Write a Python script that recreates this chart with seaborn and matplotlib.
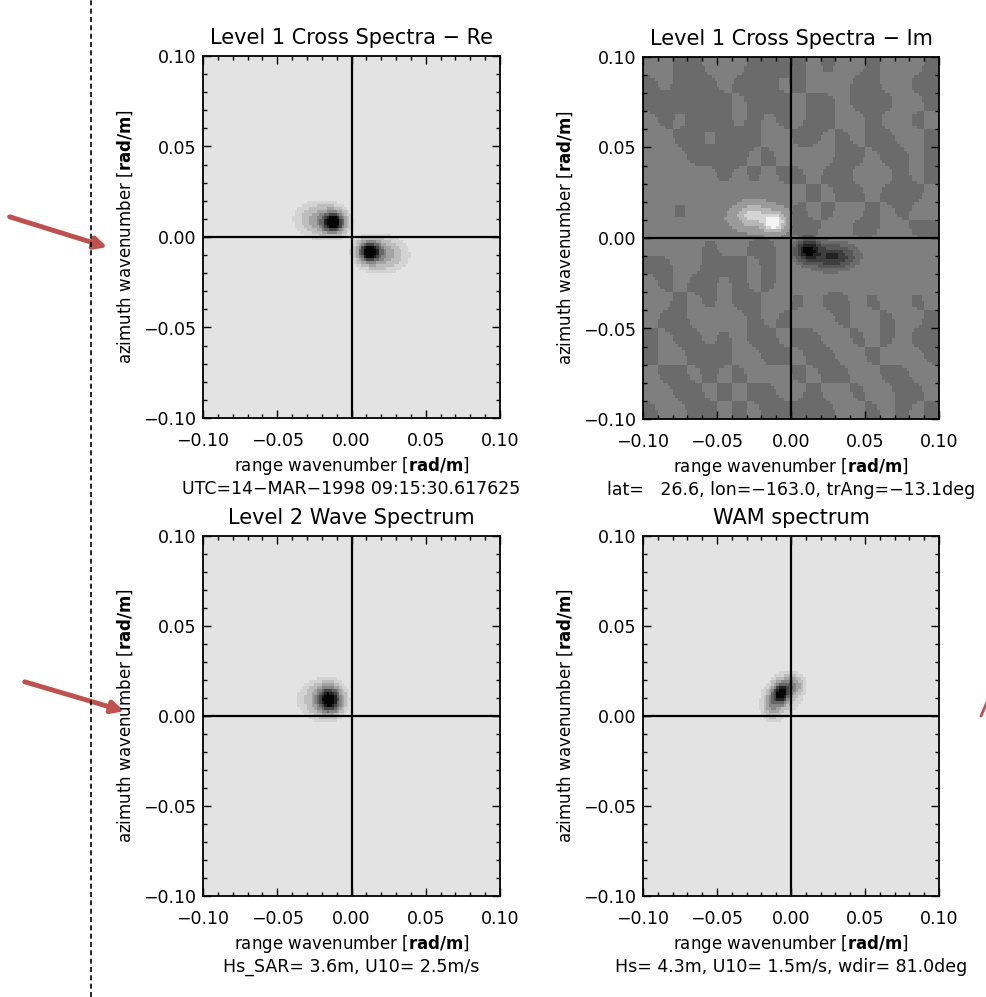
import numpy as np
import matplotlib
matplotlib.use("Agg")
import matplotlib.pyplot as plt
import seaborn as sns
from matplotlib.colors import ListedColormap
from matplotlib.patches import FancyArrowPatch
from matplotlib.lines import Line2D

# ---------------- data ----------------
titles = ["Level 1 Cross Spectra \u2212 Re", "Level 1 Cross Spectra \u2212 Im",
          "Level 2 Wave Spectrum", "WAM spectrum"]
subtitles = ["UTC=14\u2212MAR\u22121998 09:15:30.617625",
             "lat=   26.6, lon=\u2212163.0, trAng=\u221213.1deg",
             "Hs_SAR= 3.6m, U10= 2.5m/s",
             "Hs= 4.3m, U10= 1.5m/s, wdir= 81.0deg"]
tick_values = [-0.10, -0.05, 0.00, 0.05, 0.10]
tick_labels = ["\u22120.10", "\u22120.05", "0.00", "0.05", "0.10"]

# spectral peaks: centre x, centre y, width x, width y, amplitude
re_cx = [-0.012, -0.018, -0.022, 0.012, 0.018, 0.022]
re_cy = [0.008, 0.009, 0.010, -0.008, -0.009, -0.010]
re_sx = [0.0045, 0.008, 0.011, 0.0045, 0.008, 0.011]
re_sy = [0.0035, 0.005, 0.006, 0.0035, 0.005, 0.006]
re_amp = [1.0, 0.22, 0.12, 1.0, 0.22, 0.12]

im_cx = [-0.0117, -0.026, -0.022, 0.0118, 0.028, 0.026]
im_cy = [0.0086, 0.0130, 0.0110, -0.0070, -0.0105, -0.0100]
im_sx = [0.0045, 0.0060, 0.0120, 0.0045, 0.0070, 0.0120]
im_sy = [0.0032, 0.0035, 0.0050, 0.0032, 0.0032, 0.0050]
im_amp = [0.95, 0.45, 0.2, -1.05, -0.45, -0.18]

l2_cx = [-0.0150, -0.020]
l2_cy = [0.0090, 0.0092]
l2_sx = [0.0050, 0.0090]
l2_sy = [0.0045, 0.0062]
l2_amp = [1.0, 0.22]

wam_cx = [-0.0068, 0.0005, -0.0125, -0.005]
wam_cy = [0.0125, 0.0170, 0.0060, 0.0120]
wam_sx = [0.0035, 0.0045, 0.0040, 0.0080]
wam_sy = [0.0035, 0.0035, 0.0045, 0.0075]
wam_amp = [1.0, 0.35, 0.32, 0.12]

# background speckle of the Im panel (1 = darker grey, 0 = lighter grey),
# rows from azimuth +0.10 down to -0.10, columns from range -0.10 to +0.10
im_background = [
    "00110001111010010001",
    "10111011101000110011",
    "11111101110110111001",
    "01011101010110010010",
    "00110111001101011001",
    "00011110100001101101",
    "00000101011011000101",
    "00000000000101101110",
    "00100000001010010100",
    "00000000001100110011",
    "00001001100000000000",
    "11001110100000000000",
    "01011010100000000000",
    "00101011001011010010",
    "01100001010001001001",
    "10110101101100101011",
    "10011100110110010001",
    "01101010001011001100",
    "00110101100100100110",
    "10011010111110010101",
]

# ---------------- build fields ----------------
N = 120
xs = -0.1 + (np.arange(N) + 0.5) * 0.2 / N
ys = 0.1 - (np.arange(N) + 0.5) * 0.2 / N
X, Y = np.meshgrid(xs, ys)


def peaks(cx, cy, sx, sy, amp):
    f = np.zeros_like(X)
    for a, b, c, d, e in zip(cx, cy, sx, sy, amp):
        f += e * np.exp(-((X - a) ** 2 / (2 * c ** 2) + (Y - b) ** 2 / (2 * d ** 2)))
    return f


def blur1d(a, sigma, axis):
    r = int(3 * sigma)
    k = np.exp(-0.5 * (np.arange(-r, r + 1) / sigma) ** 2)
    k /= k.sum()
    pad = [(0, 0), (0, 0)]
    pad[axis] = (r, r)
    ap = np.pad(a, pad, mode="reflect")
    return np.apply_along_axis(lambda v: np.convolve(v, k, mode="valid"), axis, ap)


def speckle(rows):
    A = np.array([[int(ch) for ch in r] for r in rows], dtype=float)
    f = N // A.shape[0]
    B = np.kron(A, np.ones((f, f)))
    B = blur1d(blur1d(B, 2.4, 0), 2.4, 1)
    return (B >= 0.5).astype(float)


pow_bounds = [0.04, 0.1, 0.2, 0.32, 0.45, 0.6, 0.75, 0.9]
pow_colors = ["#e3e3e3", "#d3d3d3", "#bdbdbd", "#a3a3a3", "#868686",
              "#666666", "#454545", "#232323", "#050505"]
im_bounds = [-0.75, -0.5, -0.25, -0.08, 0.0, 0.08, 0.25, 0.5, 0.75]
im_colors = ["#000000", "#222222", "#3e3e3e", "#575757", "#6b6b6b",
             "#7f7f7f", "#9a9a9a", "#b6b6b6", "#d4d4d4", "#f4f4f4"]

re_field = peaks(re_cx, re_cy, re_sx, re_sy, re_amp)
im_field = peaks(im_cx, im_cy, im_sx, im_sy, im_amp) + np.where(speckle(im_background) > 0.5, -0.04, 0.04)
l2_field = peaks(l2_cx, l2_cy, l2_sx, l2_sy, l2_amp)
wam_field = peaks(wam_cx, wam_cy, wam_sx, wam_sy, wam_amp)

fields = [(re_field, pow_bounds, pow_colors), (im_field, im_bounds, im_colors),
          (l2_field, pow_bounds, pow_colors), (wam_field, pow_bounds, pow_colors)]

# ---------------- figure ----------------
sns.set_style("white")
plt.rcParams["font.family"] = ["DejaVu Sans"]
plt.rcParams["text.color"] = "black"
plt.rcParams["xtick.color"] = "black"
plt.rcParams["ytick.color"] = "black"
plt.rcParams["axes.axisbelow"] = False
W, H = 986, 997
fig = plt.figure(figsize=(W / 100, H / 100), dpi=100)


def fx(px):
    return px / W


def fy(py):
    return 1 - py / H


boxes = [(203, 56, 500, 418), (643, 57, 939, 419), (203, 536, 500, 896), (643, 536, 939, 896)]

for k, ((x0, y0, x1, y1), (fld, bnds, cols)) in enumerate(zip(boxes, fields)):
    ax = fig.add_axes([fx(x0), fy(y1), (x1 - x0) / W, (y1 - y0) / H])
    q = np.digitize(fld, bnds)
    sns.heatmap(q, ax=ax, cmap=ListedColormap(cols), vmin=-0.5, vmax=len(cols) - 0.5,
                cbar=False, xticklabels=False, yticklabels=False)
    ax.set_axisbelow(False)
    ax.axvline(N / 2, color="black", lw=1.6)
    ax.axhline(N / 2, color="black", lw=1.6)
    for s in ax.spines.values():
        s.set_visible(True)
        s.set_color("black")
        s.set_linewidth(1.3)
    pos_x = [(v + 0.1) / 0.2 * N for v in tick_values]
    pos_y = [(0.1 - v) / 0.2 * N for v in tick_values]
    ax.set_xticks(pos_x)
    ax.set_xticklabels(tick_labels, rotation=0)
    ax.set_yticks(pos_y)
    ax.set_yticklabels(tick_labels, rotation=0)
    minor = [i * N / 20 for i in range(21)]
    ax.set_xticks(minor, minor=True)
    ax.set_yticks(minor, minor=True)
    ax.tick_params(which="both", direction="in", top=True, right=True, bottom=True, left=True,
                   color="black", width=1.0)
    ax.tick_params(which="major", length=6, labelsize=12.5, labelcolor="black")
    ax.tick_params(which="minor", length=3)
    ax.tick_params(axis="x", which="major", pad=10)
    ax.tick_params(axis="y", which="major", pad=5)
    ax.set_xlabel("")
    ax.set_ylabel("")

    cx = (x0 + x1) / 2
    fig.text(fx(cx), fy(y0 - 18), titles[k], ha="center", va="center", fontsize=15, color="black")
    fig.text(fx(cx), fy(y1 + 48), r"range wavenumber [$\mathbf{rad/m}$]",
             ha="center", va="center", fontsize=12, color="black")
    fig.text(fx(cx), fy(y1 + 71), subtitles[k], ha="center", va="center", fontsize=12.5,
             color="black")
    fig.text(fx(x0 - 78), fy((y0 + y1) / 2), r"azimuth wavenumber [$\mathbf{rad/m}$]",
             ha="center", va="center", rotation=90, fontsize=12, color="black")

# dashed separator line at left
fig.add_artist(Line2D([fx(91), fx(91)], [0, 1], transform=fig.transFigure,
                      color="black", lw=1.2, ls=(0, (3, 2))))

# red annotation arrows
arrow_col = "#c0504d"
for (sx_, sy_), (ex_, ey_) in [((7, 216), (110, 248)), ((22, 681), (127, 712))]:
    fig.add_artist(FancyArrowPatch((fx(sx_), fy(sy_)), (fx(ex_), fy(ey_)),
                                   transform=fig.transFigure, arrowstyle="-|>",
                                   mutation_scale=18, color=arrow_col, lw=3.5))
fig.add_artist(Line2D([fx(981), fx(987)], [fy(716), fy(702)], transform=fig.transFigure,
                      color=arrow_col, lw=2))

fig.savefig("out.png", dpi=100)
